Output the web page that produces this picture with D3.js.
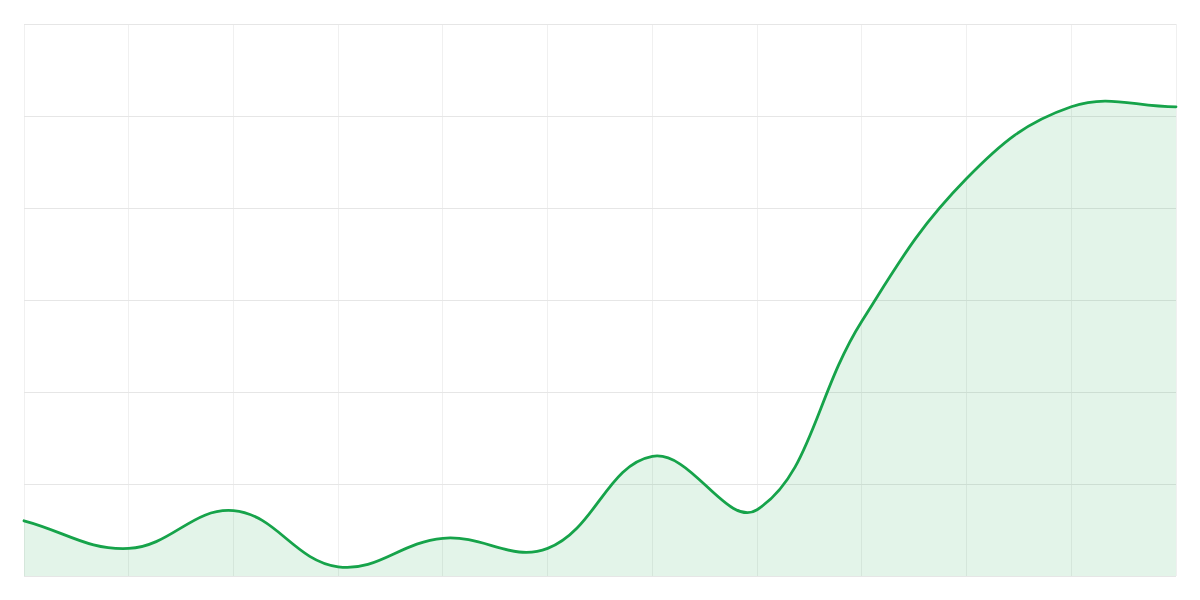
<!DOCTYPE html>
<html>
<head>
<meta charset="utf-8">
<script src="https://cdn.jsdelivr.net/npm/d3@7"></script>
<style>
  html, body { margin: 0; padding: 0; background: #ffffff; }
  svg { display: block; }
</style>
</head>
<body>
<svg id="chart" width="1200" height="600"></svg>
<script>
// Data
const categories = [0, 1, 2, 3, 4, 5, 6, 7, 8, 9, 10, 11];
const values = [6.0, 3.0, 7.1, 1.0, 4.1, 3.0, 13.0, 7.2, 27.7, 43.2, 51.0, 51.0];
const yTicks = [0, 10, 20, 30, 40, 50, 60];

const width = 1200, height = 600;
const margin = { top: 24, right: 24, bottom: 24, left: 24 };

const svg = d3.select('#chart');

const x = d3.scaleLinear()
  .domain([categories[0], categories[categories.length - 1]])
  .range([margin.left, width - margin.right]);

const y = d3.scaleLinear()
  .domain([0, 60])
  .range([height - margin.bottom, margin.top]);

// Distance-weighted spline curve (tension 0.4), as a d3 curve factory
function curveTensionSpline(tension) {
  function Curve(context) { this._context = context; }
  Curve.prototype = {
    areaStart() { this._line = 0; },
    areaEnd() { this._line = NaN; },
    lineStart() { this._pts = []; },
    point(px, py) { this._pts.push([+px, +py]); },
    lineEnd() {
      const ctx = this._context, p = this._pts, n = p.length;
      if (n) {
        if (this._line) ctx.lineTo(p[0][0], p[0][1]); else ctx.moveTo(p[0][0], p[0][1]);
        if (n > 1) {
          const cpIn = [], cpOut = [];
          for (let i = 0; i < n; i++) {
            const prev = p[i - 1] || p[i], cur = p[i], next = p[i + 1] || p[i];
            const d01 = Math.hypot(cur[0] - prev[0], cur[1] - prev[1]);
            const d12 = Math.hypot(next[0] - cur[0], next[1] - cur[1]);
            let s01 = d01 / (d01 + d12), s12 = d12 / (d01 + d12);
            if (!isFinite(s01)) s01 = 0;
            if (!isFinite(s12)) s12 = 0;
            const fa = tension * s01, fb = tension * s12;
            cpIn[i] = [cur[0] - fa * (next[0] - prev[0]), cur[1] - fa * (next[1] - prev[1])];
            cpOut[i] = [cur[0] + fb * (next[0] - prev[0]), cur[1] + fb * (next[1] - prev[1])];
          }
          for (let i = 1; i < n; i++) {
            ctx.bezierCurveTo(cpOut[i - 1][0], cpOut[i - 1][1], cpIn[i][0], cpIn[i][1], p[i][0], p[i][1]);
          }
        }
      }
      if (this._line || (this._line !== 0 && n === 1)) ctx.closePath();
      this._line = 1 - this._line;
    }
  };
  return context => new Curve(context);
}

// Vertical grid lines
svg.append('g')
  .selectAll('line')
  .data(categories)
  .join('line')
  .attr('x1', d => x(d)).attr('x2', d => x(d))
  .attr('y1', y(60)).attr('y2', y(0))
  .attr('stroke', '#f0f0f0')
  .attr('stroke-width', 1)
  .attr('shape-rendering', 'crispEdges');

// Horizontal grid lines
svg.append('g')
  .selectAll('line')
  .data(yTicks)
  .join('line')
  .attr('x1', x(categories[0])).attr('x2', x(categories[categories.length - 1]))
  .attr('y1', d => y(d)).attr('y2', d => y(d))
  .attr('stroke', '#e6e6e6')
  .attr('stroke-width', 1)
  .attr('shape-rendering', 'crispEdges');

const curve = curveTensionSpline(0.4);

const area = d3.area()
  .x((d, i) => x(categories[i]))
  .y0(y(0))
  .y1(d => y(d))
  .curve(curve);

const line = d3.line()
  .x((d, i) => x(categories[i]))
  .y(d => y(d))
  .curve(curve);

svg.append('path')
  .datum(values)
  .attr('d', area)
  .attr('fill', 'rgba(22,163,74,0.12)');

svg.append('path')
  .datum(values)
  .attr('d', line)
  .attr('fill', 'none')
  .attr('stroke', '#16a34a')
  .attr('stroke-width', 2.8)
  .attr('stroke-linejoin', 'round')
  .attr('stroke-linecap', 'round');
</script>
</body>
</html>
